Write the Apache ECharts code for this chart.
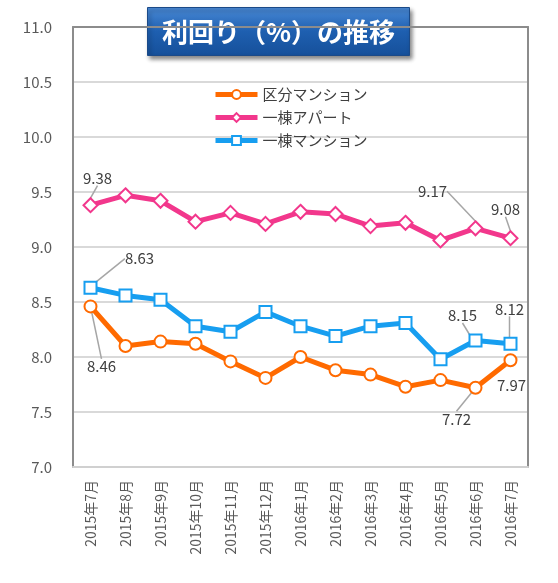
<!DOCTYPE html>
<html>
<head>
<meta charset="utf-8">
<script src="https://cdn.jsdelivr.net/npm/echarts@6/dist/echarts.min.js"></script>
<style>
html,body{margin:0;padding:0;background:#fff;}
#c{width:558px;height:583px;}
</style>
</head>
<body>
<div id="c"></div>
<script>
const categories = ['2015年7月','2015年8月','2015年9月','2015年10月','2015年11月','2015年12月','2016年1月','2016年2月','2016年3月','2016年4月','2016年5月','2016年6月','2016年7月'];
const kubunMansion = [8.46, 8.10, 8.14, 8.12, 7.96, 7.81, 8.00, 7.88, 7.84, 7.73, 7.79, 7.72, 7.97];
const ittoApart   = [9.38, 9.47, 9.42, 9.23, 9.31, 9.21, 9.32, 9.30, 9.19, 9.22, 9.06, 9.17, 9.08];
const ittoMansion = [8.63, 8.56, 8.52, 8.28, 8.23, 8.41, 8.28, 8.19, 8.28, 8.31, 7.98, 8.15, 8.12];
const seriesNames = ['区分マンション','一棟アパート','一棟マンション'];
const yTicks = {min: 7, max: 11, interval: 0.5};
const labeledIdx = [0, 11, 12];
const titleText = '利回り（%）の推移';

// label offsets (px) from point centre, per series, keyed by data index
const labelOffsets = [
  {0: [11, 60], 11: [-19, 31], 12: [1, 25]},
  {0: [7, -27], 11: [-43, -37], 12: [-5, -29]},
  {0: [49, -29], 11: [-13, -25], 12: [-1, -35]}
];
const noLeader = [[12], [], []];

const colors = ['#ff6a00', '#f2378c', '#179ef0'];
const symbols = ['circle', 'diamond', 'rect'];
const symbolSizes = [12, 14, 12];
const FONT = "'Noto Sans CJK JP', 'Open Sans', sans-serif";

function buildData(vals, si) {
  return vals.map((v, i) => {
    if (labeledIdx.indexOf(i) < 0) return v;
    return {
      value: v,
      label: {show: true},
      labelLine: {show: noLeader[si].indexOf(i) < 0}
    };
  });
}

const allVals = [kubunMansion, ittoApart, ittoMansion];
const series = allVals.map((vals, si) => ({
  name: seriesNames[si],
  type: 'line',
  data: buildData(vals, si),
  symbol: symbols[si],
  symbolSize: symbolSizes[si],
  showAllSymbol: true,
  z: 3 + si,
  lineStyle: {color: colors[si], width: 5},
  itemStyle: {color: '#ffffff', borderColor: colors[si], borderWidth: 2},
  emphasis: {disabled: true},
  label: {
    show: false,
    position: 'inside',
    color: '#404040',
    fontSize: 15,
    fontFamily: FONT,
    formatter: p => p.value.toFixed(2)
  },
  labelLine: {show: true, lineStyle: {color: '#a6a6a6', width: 1.5}},
  labelLayout: function (params) {
    const off = labelOffsets[si][params.dataIndex];
    if (!off) return {};
    return {dx: off[0], dy: off[1]};
  }
}));

const chart = echarts.init(document.getElementById('c'), null, {renderer: 'canvas'});
chart.setOption({
  animation: false,
  backgroundColor: '#ffffff',
  grid: {left: 73, right: 30, top: 27, bottom: 116, containLabel: false},
  legend: {
    data: seriesNames,
    orient: 'vertical',
    left: 213,
    top: 87,
    padding: 0,
    itemWidth: 42,
    itemHeight: 11,
    itemGap: 8,
    lineStyle: {width: 5},
    textStyle: {color: '#404040', fontSize: 15, fontFamily: FONT}
  },
  xAxis: [{
    type: 'category',
    data: categories,
    boundaryGap: true,
    axisLine: {show: true, lineStyle: {color: '#d0d0d0', width: 2}},
    axisTick: {show: false},
    axisLabel: {rotate: 90, margin: 13, color: '#595959', fontSize: 14, fontFamily: FONT, interval: 0},
    splitLine: {show: false}
  }, {
    type: 'category',
    position: 'top',
    data: categories,
    axisLine: {show: true, lineStyle: {color: '#8c8c8c', width: 2}},
    axisTick: {show: false},
    axisLabel: {show: false},
    splitLine: {show: false}
  }],
  yAxis: [{
    type: 'value',
    min: yTicks.min,
    max: yTicks.max,
    interval: yTicks.interval,
    axisLine: {show: true, lineStyle: {color: '#8c8c8c', width: 2}},
    axisTick: {show: false},
    axisLabel: {margin: 21, color: '#595959', fontSize: 15, fontFamily: FONT, formatter: v => v.toFixed(1)},
    splitLine: {show: true, lineStyle: {color: '#d9d9d9', width: 2}}
  }, {
    type: 'value',
    position: 'right',
    min: yTicks.min,
    max: yTicks.max,
    interval: yTicks.interval,
    axisLine: {show: true, lineStyle: {color: '#8c8c8c', width: 2}},
    axisTick: {show: false},
    axisLabel: {show: false},
    splitLine: {show: false}
  }],
  series: series,
  graphic: [{
    type: 'group',
    left: 147,
    top: 7,
    z: 100,
    children: [{
      type: 'rect',
      shape: {x: 0, y: 0, width: 262, height: 48},
      style: {
        fill: new echarts.graphic.LinearGradient(0, 0, 0, 1, [
          {offset: 0, color: '#4a8ad6'},
          {offset: 0.5, color: '#1e5fb0'},
          {offset: 1, color: '#16509a'}
        ]),
        stroke: '#1b4a88',
        lineWidth: 1,
        shadowBlur: 4,
        shadowOffsetX: 2,
        shadowOffsetY: 3,
        shadowColor: 'rgba(0,0,0,0.45)'
      }
    }, {
      type: 'text',
      x: 131,
      y: 25,
      style: {
        text: titleText,
        fill: '#ffffff',
        font: "bold 26px 'Noto Sans CJK JP', sans-serif",
        align: 'center',
        verticalAlign: 'middle'
      }
    }]
  }]
});
</script>
</body>
</html>
